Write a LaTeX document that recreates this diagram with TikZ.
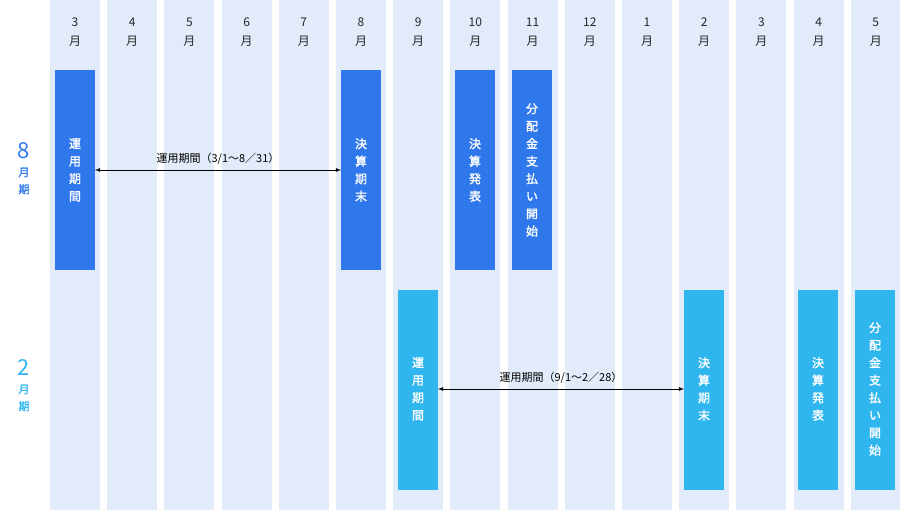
\documentclass[tikz,border=0pt]{standalone}
\usepackage{fontspec}
\setmainfont{Noto Sans CJK JP}
\newfontfamily\cjkb[FakeBold=1.5]{Noto Sans CJK JP}
\begin{document}
\begin{tikzpicture}[x=1pt,y=-1pt,
  col/.style={fill=colbg,draw=none},
  darkbox/.style={fill=darkb,draw=none},
  lightbox/.style={fill=lightb,draw=none},
  vtxt/.style={text=white,font=\cjkb\fontsize{12}{17.5}\selectfont,align=center,inner sep=0},
  hdr/.style={font=\fontsize{12}{19}\selectfont,align=center,inner sep=0,text=black!85},
  arr/.style={<->,>=latex,line width=0.8pt},
  lbl/.style={font=\fontsize{11}{13}\selectfont,inner sep=1pt}]
\definecolor{colbg}{HTML}{E1EBF9}
\definecolor{darkb}{HTML}{2F78EC}
\definecolor{lightb}{HTML}{30B6EE}
\useasboundingbox (0,0) rectangle (900,530);
\fill[white] (0,0) rectangle (900,530);
\foreach \m [count=\i] in {3,4,5,6,7,8,9,10,11,12,1,2,3,4,5}{
  \pgfmathsetmacro\cx{75+(\i-1)*57.2}
  \fill[colbg] (\cx-25,0) rectangle (\cx+25,510);
  \node[hdr] (h\i) at (\cx,32) {\m\\月};
}
% dark boxes
\fill[darkb] (55,70) rectangle (95,270);
\fill[darkb] (341,70) rectangle (381,270);
\fill[darkb] (455,70) rectangle (495,270);
\fill[darkb] (512,70) rectangle (552,270);
\node[vtxt] (a1) at (75,170) {運\\用\\期\\間};
\node[vtxt] (a2) at (361,170) {決\\算\\期\\末};
\node[vtxt] (a3) at (475,170) {決\\算\\発\\表};
\node[vtxt] (a4) at (532,170) {分\\配\\金\\支\\払\\い\\開\\始};
\coordinate (p1) at (95,170);
\coordinate (p2) at (341,170);
\draw[arr] (p1) -- (p2) node[midway,above=4pt,lbl] {運用期間（3/1〜8／31）};
% light boxes
\fill[lightb] (398,290) rectangle (438,490);
\fill[lightb] (684,290) rectangle (724,490);
\fill[lightb] (798,290) rectangle (838,490);
\fill[lightb] (855,290) rectangle (895,490);
\node[vtxt] (b1) at (418,389) {運\\用\\期\\間};
\node[vtxt] (b2) at (704,389) {決\\算\\期\\末};
\node[vtxt] (b3) at (818,389) {決\\算\\発\\表};
\node[vtxt] (b4) at (875,389) {分\\配\\金\\支\\払\\い\\開\\始};
\coordinate (q1) at (438,389);
\coordinate (q2) at (684,389);
\draw[arr] (q1) -- (q2) node[midway,above=4pt,lbl] {運用期間（9/1〜2／28）};
% period labels
\node[text=darkb,font=\fontsize{22}{22}\selectfont,inner sep=0] (e8) at (24,151) {8};
\node[text=darkb,font=\cjkb\fontsize{11}{17}\selectfont,align=center,inner sep=0] (e8b) at (24,181) {月\\期};
\node[text=lightb,font=\fontsize{22}{22}\selectfont,inner sep=0] (e2) at (24,368) {2};
\node[text=lightb,font=\cjkb\fontsize{11}{17}\selectfont,align=center,inner sep=0] (e2b) at (24,398) {月\\期};
\end{tikzpicture}
\end{document}
